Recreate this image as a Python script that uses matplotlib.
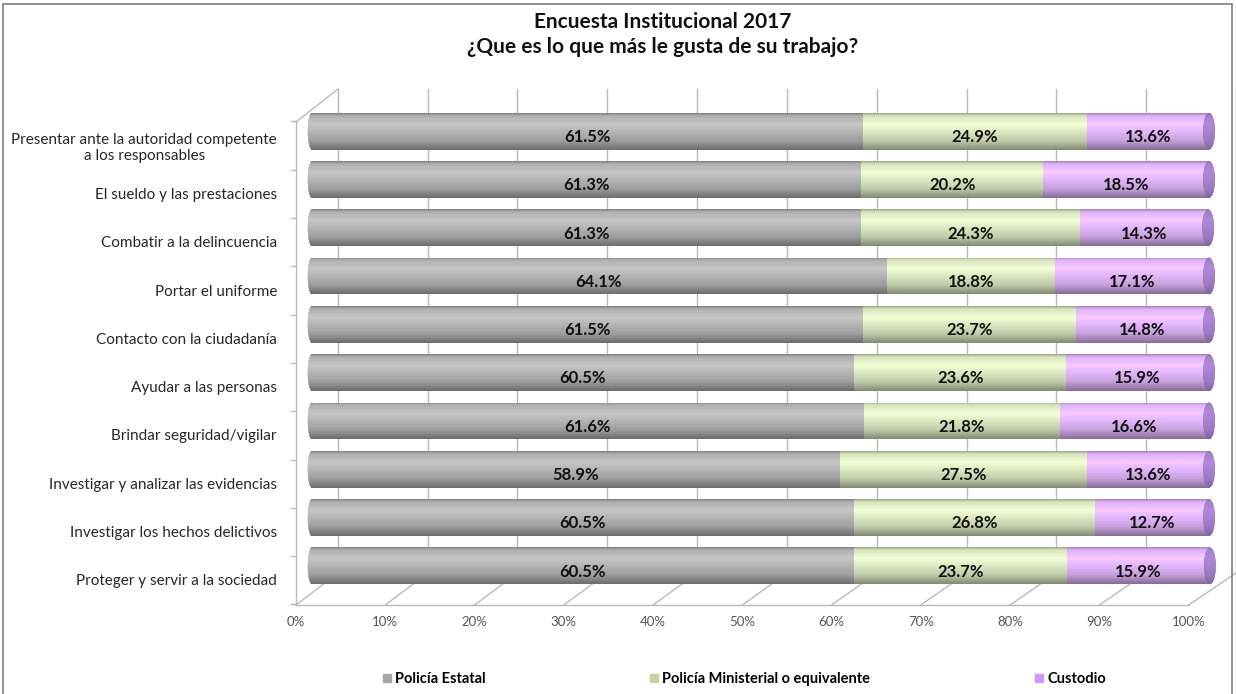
import numpy as np
import matplotlib
matplotlib.use("Agg")
import matplotlib.pyplot as plt
from matplotlib.patches import Ellipse, Rectangle
from matplotlib.lines import Line2D
from matplotlib.transforms import ScaledTranslation

plt.rcParams['font.family'] = ['Lato', 'DejaVu Sans']

categories = [
    "Presentar ante la autoridad competente\na los responsables",
    "El sueldo y las prestaciones",
    "Combatir a la delincuencia",
    "Portar el uniforme",
    "Contacto con la ciudadanía",
    "Ayudar a las personas",
    "Brindar seguridad/vigilar",
    "Investigar y analizar las evidencias",
    "Investigar los hechos delictivos",
    "Proteger y servir a la sociedad",
]
estatal = [61.5, 61.3, 61.3, 64.1, 61.5, 60.5, 61.6, 58.9, 60.5, 60.5]
ministerial = [24.9, 20.2, 24.3, 18.8, 23.7, 23.6, 21.8, 27.5, 26.8, 23.7]
custodio = [13.6, 18.5, 14.3, 17.1, 14.8, 15.9, 16.6, 13.6, 12.7, 15.9]
series_names = ["Policía Estatal", "Policía Ministerial o equivalente", "Custodio"]
xticks = list(range(0, 101, 10))

colors = ["#b4b4b4", "#dbe8c2", "#e2b6fb"]
legend_colors = ["#a6a6a6", "#c3d69b", "#cc99ff"]
cap_color = "#9573b8"

W, H = 1236, 694
fig = plt.figure(figsize=(W / 100, H / 100), dpi=100)
ax = fig.add_axes([296 / W, (H - 590) / H, 922 / W, 483 / H])

bar_h = 0.76
FRONT = -1.66   # front plane shift (data units)
FSCALE = 0.994  # front plane is a touch narrower
BACK = 3.0      # back wall shift

profile_t = [0, 0.07, 0.3, 0.75, 1]
profile_f = [0.72, 0.98, 1.1, 0.88, 0.6]
t = np.linspace(0, 1, 64)
f = np.interp(t, profile_t, profile_f)


def gradient(col, scale=1.0, floor=0.0):
    rgb = np.array(matplotlib.colors.to_rgb(col))
    ff = floor + (1 - floor) * f
    return np.clip(rgb[None, :] * ff[:, None] * scale, 0, 1)[:, None, :]


y = np.arange(len(categories))
lefts = np.zeros(len(categories))
for vals, col in zip([estatal, ministerial, custodio], colors):
    vals = np.array(vals)
    bars = ax.barh(y, vals, left=lefts, height=bar_h, color=col, zorder=2)
    img = gradient(col)
    for rect, yi, l, v in zip(bars, y, lefts, vals):
        im = ax.imshow(img, extent=(l, l + v, yi + bar_h / 2, yi - bar_h / 2),
                       aspect='auto', zorder=2.5, interpolation='bilinear')
        im.set_clip_path(rect)
        ax.text(l + v / 2, yi + 0.12, f"{v:.1f}%", ha='center', va='center',
                fontsize=12, fontweight='bold', color='#111111', zorder=5)
    lefts = lefts + vals

# cylinder ends
gray_img = gradient(colors[0])
cap_img = gradient(cap_color, scale=1.12, floor=0.45)
for yi, total in zip(y, lefts):
    e = Ellipse((0.1, yi), 0.9, bar_h, facecolor=colors[0], edgecolor='none', zorder=1.8)
    ax.add_patch(e)
    im = ax.imshow(gray_img, extent=(-0.4, 0.6, yi + bar_h / 2, yi - bar_h / 2),
                   aspect='auto', zorder=1.9, interpolation='bilinear')
    im.set_clip_path(e)
    c = Ellipse((total, yi), 1.33, bar_h, facecolor=cap_color, edgecolor='none', zorder=3)
    ax.add_patch(c)
    im = ax.imshow(cap_img, extent=(total - 0.7, total + 0.7, yi + bar_h / 2, yi - bar_h / 2),
                   aspect='auto', zorder=3.1, interpolation='bilinear')
    im.set_clip_path(c)

# 3D frame: back wall gridlines, floor and left wall
grid_kw = dict(color='#b9b9b9', lw=1.0, clip_on=False)
back_top, back_bot = -0.87, 9.15
front_top, front_bot = -0.19, 9.81
front_x = [FRONT + v * FSCALE for v in xticks]
for xv, fx in zip(xticks, front_x):
    ax.plot([xv + BACK, xv + BACK], [back_top, back_bot], zorder=0.5, **grid_kw)
    ax.plot([fx, xv + BACK], [front_bot, back_bot], zorder=0.5, **grid_kw)
ax.plot([front_x[0], front_x[-1]], [front_bot, front_bot], zorder=0.5, **grid_kw)
ax.plot([front_x[0], front_x[0]], [front_top, front_bot], zorder=0.5, **grid_kw)
ax.plot([front_x[0], BACK], [front_top, back_top], zorder=0.5, **grid_kw)
for b in np.arange(-0.5, len(categories), 1.0):
    yb = b + 0.3
    ax.plot([front_x[0] - 0.6, front_x[0]], [yb, yb], zorder=0.5, **grid_kw)

ax.set_xlim(-1, 101)
ax.set_ylim(len(categories) - 0.5, -0.5)
for s in ax.spines.values():
    s.set_visible(False)
ax.set_xticks(front_x)
ax.set_xticklabels([f"{v}%" for v in xticks], fontsize=9.5, color='#555555')
ax.tick_params(axis='x', length=0, pad=19)
ax.set_yticks(y)
ax.set_yticklabels(categories, fontsize=11, color='#262626', multialignment='center')
ax.tick_params(axis='y', length=0, pad=13.7)
offy = ScaledTranslation(0, -14 / 100, fig.dpi_scale_trans)
for lab in ax.get_yticklabels():
    lab.set_transform(lab.get_transform() + offy)

# title
fig.text(663 / W, 1 - 22 / H, "Encuesta Institucional 2017", ha='center', va='center',
         fontsize=15, fontweight='bold', color='#111111')
fig.text(663 / W, 1 - 47 / H, "¿Que es lo que más le gusta de su trabajo?", ha='center', va='center',
         fontsize=15, fontweight='bold', color='#111111')

# legend
leg_x = [375, 642, 1027]
for name, col, lx in zip(series_names, legend_colors, leg_x):
    h = Line2D([], [], marker='s', linestyle='none', markersize=6, color=col)
    fig.legend(handles=[h], labels=[name], loc='center left',
               bbox_to_anchor=(lx / W, 1 - 679 / H), frameon=False,
               handlelength=0.6, handletextpad=0.3, borderpad=0,
               prop={'size': 10.5, 'weight': 'bold'})

# outer chart border
fig.patches.append(Rectangle((3 / W, -0.02), 1229 / W, 1 - 4 / H + 0.02, transform=fig.transFigure,
                             fill=False, edgecolor='#7f7f7f', lw=1.2))

fig.savefig("out.png", dpi=100, facecolor='white')
